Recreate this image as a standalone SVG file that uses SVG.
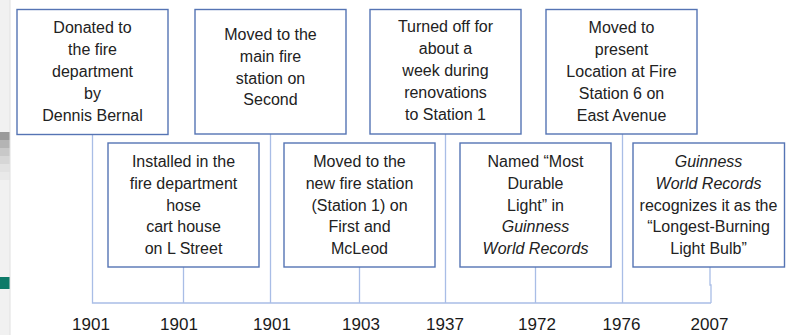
<svg xmlns="http://www.w3.org/2000/svg" width="786" height="335" viewBox="0 0 786 335">
<style>
.box{fill:#fff;stroke:#5574b4;stroke-width:1.4}
.t{font-family:"Liberation Sans",Arial,sans-serif;font-size:16px;fill:#222;text-anchor:middle}
.i{font-style:italic}
.yr{font-family:"Liberation Sans",Arial,sans-serif;font-size:17px;fill:#1a1a1a;text-anchor:middle}
.c{fill:none;stroke:#a9bde6;stroke-width:1.3}
</style>
<rect x="0" y="0" width="786" height="335" fill="#fff"/>
<g id="edge">
<rect x="0" y="0" width="10" height="335" fill="#f1f1f1"/>
<rect x="0" y="132" width="10" height="8" fill="#9a9a9a"/>
<rect x="0" y="140" width="10" height="8" fill="#b4b4b4"/>
<rect x="0" y="148" width="10" height="8" fill="#c8c8c8"/>
<rect x="0" y="156" width="10" height="8" fill="#d6d6d6"/>
<rect x="0" y="164" width="10" height="8" fill="#e2e2e2"/>
<rect x="0" y="172" width="10" height="8" fill="#e9e9e9"/>
<rect x="0" y="277" width="10" height="12" fill="#0d7a68"/>
<line x1="10" y1="0" x2="10" y2="335" stroke="#e0e0e0" stroke-width="1"/>
</g>
<g id="connectors">
<path class="c" d="M92.5 135V303H711"/>
<path class="c" d="M183.5 267V303"/>
<path class="c" d="M270.5 134V303"/>
<path class="c" d="M359.5 267V303"/>
<path class="c" d="M445.5 134V303"/>
<path class="c" d="M535.5 267V303"/>
<path class="c" d="M622.5 134V303"/>
<path class="c" d="M710 267V285H711V303"/>
</g>
<g id="n1">
<rect class="box" x="17" y="9.5" width="151" height="125"/>
<text class="t" x="92.5" y="33">Donated to</text>
<text class="t" x="92.5" y="55">the fire</text>
<text class="t" x="92.5" y="77">department</text>
<text class="t" x="92.5" y="99">by</text>
<text class="t" x="92.5" y="121">Dennis Bernal</text>
</g>
<g id="n2">
<rect class="box" x="108" y="143" width="151" height="124"/>
<text class="t" x="183.5" y="167">Installed in the</text>
<text class="t" x="183.5" y="189">fire department</text>
<text class="t" x="183.5" y="211">hose</text>
<text class="t" x="183.5" y="232">cart house</text>
<text class="t" x="183.5" y="254">on L Street</text>
</g>
<g id="n3">
<rect class="box" x="195" y="9.5" width="151" height="124.5"/>
<text class="t" x="270.5" y="40">Moved to the</text>
<text class="t" x="270.5" y="62">main fire</text>
<text class="t" x="270.5" y="84">station on</text>
<text class="t" x="270.5" y="105">Second</text>
</g>
<g id="n4">
<rect class="box" x="284" y="143" width="151" height="124"/>
<text class="t" x="359.5" y="167">Moved to the</text>
<text class="t" x="359.5" y="189">new fire station</text>
<text class="t" x="359.5" y="211">(Station 1) on</text>
<text class="t" x="359.5" y="232">First and</text>
<text class="t" x="359.5" y="254">McLeod</text>
</g>
<g id="n5">
<rect class="box" x="370" y="9.5" width="151" height="124.5"/>
<text class="t" x="445.5" y="32">Turned off for</text>
<text class="t" x="445.5" y="54">about a</text>
<text class="t" x="445.5" y="76">week during</text>
<text class="t" x="445.5" y="98">renovations</text>
<text class="t" x="445.5" y="120">to Station 1</text>
</g>
<g id="n6">
<rect class="box" x="460" y="143" width="151" height="124"/>
<text class="t" x="535.5" y="167">Named “Most</text>
<text class="t" x="535.5" y="189">Durable</text>
<text class="t" x="535.5" y="211">Light” in</text>
<text class="t i" x="535.5" y="232">Guinness</text>
<text class="t i" x="535.5" y="254">World Records</text>
</g>
<g id="n7">
<rect class="box" x="546" y="9.5" width="151" height="124.5"/>
<text class="t" x="621.5" y="33">Moved to</text>
<text class="t" x="621.5" y="55">present</text>
<text class="t" x="621.5" y="77">Location at Fire</text>
<text class="t" x="621.5" y="99">Station 6 on</text>
<text class="t" x="621.5" y="121">East Avenue</text>
</g>
<g id="n8">
<rect class="box" x="633" y="143" width="151.5" height="124"/>
<text class="t i" x="708.5" y="167">Guinness</text>
<text class="t i" x="708.5" y="189">World Records</text>
<text class="t" x="708.5" y="211">recognizes it as the</text>
<text class="t" x="708.5" y="232">“Longest-Burning</text>
<text class="t" x="708.5" y="254">Light Bulb”</text>
</g>
<g id="years">
<text class="yr" x="91" y="330">1901</text>
<text class="yr" x="179" y="330">1901</text>
<text class="yr" x="272" y="330">1901</text>
<text class="yr" x="361" y="330">1903</text>
<text class="yr" x="445" y="330">1937</text>
<text class="yr" x="537" y="330">1972</text>
<text class="yr" x="621.5" y="330">1976</text>
<text class="yr" x="709.5" y="330">2007</text>
</g>
</svg>
